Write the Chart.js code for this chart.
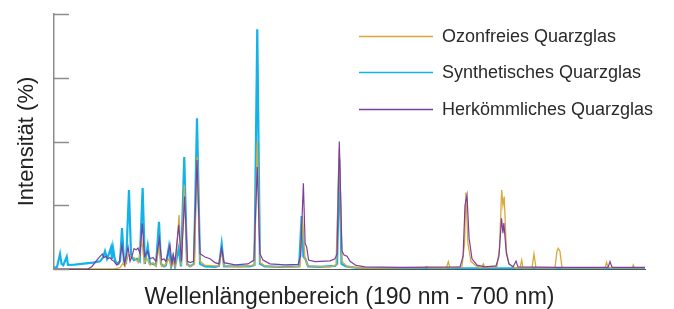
<!DOCTYPE html>
<html>
<head>
<meta charset="utf-8">
<script src="https://cdn.jsdelivr.net/npm/chart.js@4"></script>
<style>
  html, body { margin: 0; padding: 0; background: #fff; }
  canvas { display: block; }
</style>
</head>
<body>
<canvas id="spektrum" width="674" height="309"></canvas>
<script>
// Wellenlängen (nm) und Intensitäten (%) je Glassorte
const ozonNm = [190, 242, 247, 249.3, 251.3, 254.1, 257, 259.9, 262.8, 265.7, 267.9, 270, 272.8, 275.7, 278, 280.6, 282.8, 285.8, 289.2, 291, 292.7, 294.9, 297.9, 300, 302.4, 304.8, 308.2, 311.2, 313.6, 316, 320.3, 329, 332.4, 334.7, 336.7, 350.5, 363, 365.4, 368, 372, 393.7, 402.3, 404.4, 406.6, 409.2, 428.2, 433.4, 436.2, 438.5, 442.9, 454, 471.3, 510, 511.6, 513, 523, 528.7, 530.3, 531.7, 542, 544.3, 545.4, 547.2, 549.8, 554.1, 558.9, 560.5, 561.9, 572.3, 574.4, 576.3, 577.4, 578.5, 580.4, 582.6, 587.8, 592.2, 593.6, 594.7, 602.5, 604.2, 605.9, 622.3, 624, 625.1, 626.6, 628.4, 665.6, 666.8, 668.1, 670.4, 689.2, 689.9, 690.9, 700];
const ozonVal = [0, 0, 0.5, 2.2, 1, 5.5, 5, 4.2, 2.5, 11.4, 2.4, 4.3, 1.5, 2.5, 1, 8.7, 1, 1.5, 4, 1, 3, 1, 21.2, 1.5, 33, 1.5, 1, 2, 44, 3, 1.5, 1.2, 1.2, 6.8, 1.2, 0.8, 1.5, 50, 2.5, 1.2, 0.6, 1, 20, 4, 1.2, 0.8, 1.5, 47, 3, 1, 0.4, 0.4, 0.5, 1, 0.5, 0.5, 0.5, 2.9, 0.5, 0.8, 10, 30, 10, 3, 1.2, 0.5, 2, 0.5, 1, 8, 31, 25, 28.4, 7, 2, 0.5, 0.5, 3.5, 0.5, 0.5, 5.9, 0.5, 0.5, 7, 8.1, 7, 0.5, 0.5, 2.6, 0.8, 0.5, 0.5, 1.6, 0.5, 0.5];

const synthNm = [190, 192.6, 195.2, 196.5, 198, 201, 202, 208, 223.7, 229.7, 232.3, 234, 235.8, 237.5, 239.2, 240, 240.9, 242.6, 244.4, 247, 248.7, 250.4, 252.2, 254.7, 256.5, 259, 261.6, 264, 266.5, 268.4, 270.9, 272.8, 275.4, 278, 280.6, 282.3, 285, 286.6, 289.2, 291, 292.7, 294.4, 297.6, 299.6, 302.4, 304.8, 307.4, 310.8, 313.4, 316, 320.3, 329, 332.4, 334.7, 336.7, 346.2, 359, 363, 365.4, 367.7, 372, 385, 401.5, 403.7, 405.2, 406.9, 409.2, 419.6, 432.6, 434.3, 436.2, 438.1, 442, 454, 700];
const synthVal = [0.5, 0.8, 5.9, 2, 1.5, 4.8, 1.6, 1.7, 2.5, 3, 4.5, 7, 4, 6, 8.4, 4, 8.4, 3.5, 2, 3, 16.1, 3, 2.5, 31, 5, 3.5, 4, 3, 31.8, 2, 9.1, 2, 2, 1.5, 18.5, 2, 1, 1.5, 8.7, 1, 4.8, 1, 8, 1, 43.9, 2, 1, 2, 59.1, 2, 1, 0.8, 1.2, 9.8, 1, 1, 1, 1.5, 94, 2, 1, 0.8, 1, 20.8, 5, 4, 1, 0.8, 1.2, 2, 43, 2, 1, 0.3, 0.3];

const herkNm = [190, 219.3, 222.8, 226.2, 228.8, 231.7, 233.1, 234.9, 236.6, 238.3, 240, 241.8, 244.1, 246.1, 248.7, 250.8, 253.9, 255.6, 257.3, 259, 260.8, 262.5, 264.2, 266.2, 268.1, 270.9, 272.8, 275.4, 278, 280.9, 282.8, 284.9, 286.6, 290.1, 291.8, 293, 294.4, 297.6, 300, 302.7, 305.2, 307.4, 310.4, 313.4, 316, 320.3, 324.6, 329, 332.4, 334.7, 336.7, 346.2, 357.4, 362.5, 365.4, 367.7, 370.3, 376.4, 389.3, 400.6, 402.8, 405.2, 406.7, 408, 409.7, 415.3, 428.2, 432.5, 434.3, 436.2, 438.5, 440.3, 442.9, 445.5, 450.6, 458.4, 488.6, 540.4, 543, 544.7, 546.4, 548.2, 550.7, 555, 561.9, 571.4, 574, 576.2, 577.4, 578.2, 580.4, 582.6, 586.1, 588.7, 590.4, 626.6, 668.1, 669.8, 671.6, 700];
const herkVal = [0, 0, 1, 3, 4.5, 5.9, 4.5, 5, 4, 4.5, 3.5, 3, 1.6, 2, 9.4, 2, 8.7, 3, 5, 8, 7.5, 8.2, 6, 17.9, 5, 7, 4, 4.5, 3, 12, 3.5, 4, 3, 9.4, 2, 5.5, 2.5, 17.3, 3, 28.4, 3, 2.5, 3, 42.7, 6, 4.7, 4, 2.5, 2, 8.1, 2.5, 1.6, 2, 3.5, 40, 6, 3.5, 2, 1.6, 1.8, 5, 33.6, 10, 8.7, 3.5, 2.9, 3.2, 4, 6, 50, 7, 5.5, 5, 3, 1.4, 0.8, 0.6, 0.8, 5, 25, 29, 12, 4, 1.5, 0.8, 1.2, 5, 19.9, 14, 18, 6, 2, 0.8, 3.1, 0.8, 0.6, 0.6, 2.9, 0.6, 0.6];

const yTicks = [0, 25, 50, 75, 100];

function toPoints(nm, val) {
  return nm.map((x, i) => ({ x: x, y: val[i] }));
}

const schrift = "'Liberation Sans', Arial, sans-serif";

// Legende und Y-Teilstriche selbst zeichnen
const extras = {
  id: 'extras',
  afterDraw(chart) {
    const ctx = chart.ctx;
    const y = chart.scales.y;
    ctx.save();
    ctx.strokeStyle = '#8c8c8c';
    ctx.lineWidth = 1.5;
    yTicks.forEach(function (t) {
      const py = Math.round(y.getPixelForValue(t)) + 0.5;
      ctx.beginPath();
      ctx.moveTo(chart.chartArea.left, py);
      ctx.lineTo(chart.chartArea.left + 15, py);
      ctx.stroke();
    });

    const rows = [36, 72, 109];
    ctx.font = '18px ' + schrift;
    ctx.textBaseline = 'middle';
    ctx.fillStyle = '#2a2a2a';
    chart.data.datasets.forEach(function (ds, i) {
      ctx.strokeStyle = ds.borderColor;
      ctx.lineWidth = 1.5;
      ctx.beginPath();
      ctx.moveTo(359, rows[i] + 0.5);
      ctx.lineTo(433, rows[i] + 0.5);
      ctx.stroke();
      ctx.fillText(ds.label, 442, rows[i] + 1);
    });
    ctx.restore();
  }
};

new Chart(document.getElementById('spektrum'), {
  type: 'line',
  data: {
    datasets: [
      {
        label: 'Ozonfreies Quarzglas',
        data: toPoints(ozonNm, ozonVal),
        borderColor: '#d8aa3c',
        borderWidth: 1.3,
        order: 2
      },
      {
        label: 'Synthetisches Quarzglas',
        data: toPoints(synthNm, synthVal),
        borderColor: '#12b3ea',
        borderWidth: 2.2,
        order: 3
      },
      {
        label: 'Herkömmliches Quarzglas',
        data: toPoints(herkNm, herkVal),
        borderColor: '#7d3e9c',
        borderWidth: 1.2,
        order: 1
      }
    ]
  },
  options: {
    responsive: false,
    animation: false,
    devicePixelRatio: 1,
    layout: { padding: { left: 11, top: 14, right: 29, bottom: 0 } },
    elements: { point: { radius: 0 }, line: { tension: 0 } },
    plugins: { legend: { display: false }, tooltip: { enabled: false } },
    scales: {
      x: {
        type: 'linear',
        min: 190,
        max: 700,
        ticks: { display: false },
        grid: { display: false, drawTicks: false },
        border: { display: true, color: '#555', width: 1 },
        title: {
          display: true,
          text: 'Wellenlängenbereich (190 nm - 700 nm)',
          color: '#222',
          font: { family: schrift, size: 23, lineHeight: 1 },
          padding: { top: 17, bottom: 0 }
        }
      },
      y: {
        min: 0,
        max: 100,
        ticks: { display: false, stepSize: 25 },
        grid: { display: false, drawTicks: false },
        border: { display: true, color: '#8c8c8c', width: 1.5 },
        title: {
          display: true,
          text: 'Intensität (%)',
          color: '#222',
          font: { family: schrift, size: 22, lineHeight: 1 },
          padding: { top: 5, bottom: 16 }
        }
      }
    }
  },
  plugins: [extras]
});
</script>
</body>
</html>
